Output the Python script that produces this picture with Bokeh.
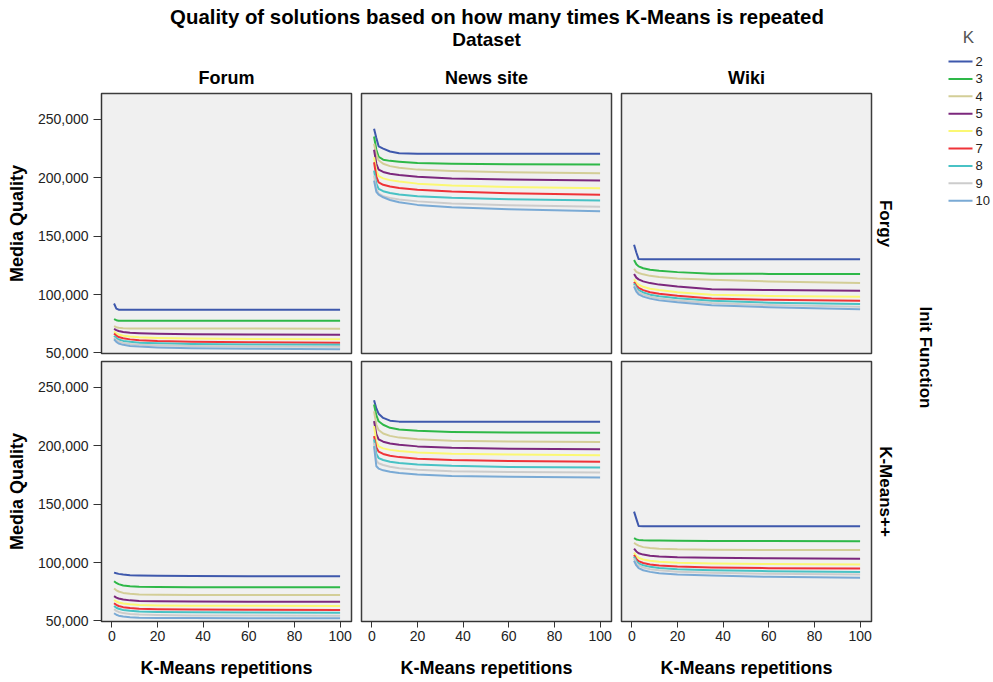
import numpy as np
from bokeh.plotting import figure
from bokeh.layouts import row, column
from bokeh.models import Range1d, FixedTicker, NumeralTickFormatter
from bokeh.core.properties import value
from bokeh.embed import file_html
from bokeh.resources import INLINE

# ---------------- data ----------------
TITLE = "Quality of solutions based on how many times K-Means is repeated"
FACET_COL_TITLE = "Dataset"
FACET_ROW_TITLE = "Init Function"
DATASETS = ["Forum", "News site", "Wiki"]
INITS = ["Forgy", "K-Means++"]
K_VALUES = [2, 3, 4, 5, 6, 7, 8, 9, 10]
K_COLORS = ["#3e58ac", "#2eb848", "#d3ce97", "#7c287d", "#fbf873",
            "#ef3338", "#48c2c5", "#cccccc", "#7aaad5"]
Y_TICKS = [50000, 100000, 150000, 200000, 250000]
X_TICKS = [0, 20, 40, 60, 80, 100]
X_LABEL = "K-Means repetitions"
Y_LABEL = "Media Quality"

# K-Means repetitions at which the curves were read
REPS = [1, 2, 3, 5, 8, 12, 20, 35, 60, 100]

forum_forgy = {
    2: [92300, 88000, 87000, 86900, 86900, 86900, 86900, 86900, 86900, 86900],
    3: [79000, 78000, 77600, 77500, 77500, 77500, 77500, 77500, 77500, 77500],
    4: [73000, 72000, 71500, 71200, 71000, 71000, 70900, 70900, 70900, 70800],
    5: [70600, 69500, 68800, 68000, 67300, 66900, 66400, 66000, 65700, 65500],
    6: [68300, 66800, 65800, 64800, 64000, 63400, 62800, 62300, 62000, 61700],
    7: [66600, 64800, 63600, 62500, 61600, 60900, 60200, 59600, 59200, 58800],
    8: [64600, 62700, 61500, 60300, 59500, 58800, 58200, 57600, 57200, 56900],
    9: [63100, 61000, 59800, 58600, 57700, 57100, 56500, 55900, 55500, 55200],
    10: [61700, 59400, 58100, 56900, 56000, 55400, 54700, 54000, 53600, 53200],
}
news_forgy = {
    2: [242000, 234000, 227000, 225000, 222500, 221000, 220700, 220600, 220600, 220600],
    3: [235400, 224000, 218000, 215500, 214500, 213800, 212700, 212000, 211600, 211400],
    4: [229100, 220000, 215000, 212000, 210000, 208600, 207000, 205800, 204800, 203900],
    5: [224000, 212000, 207000, 205000, 203500, 202300, 200800, 199500, 198500, 197600],
    6: [217600, 206000, 201500, 199500, 198000, 196800, 195000, 193500, 192200, 191000],
    7: [213300, 201000, 196000, 194000, 192500, 191200, 189800, 188200, 186800, 185400],
    8: [206200, 195000, 190500, 188500, 187000, 185700, 184200, 182800, 181600, 180500],
    9: [202000, 190500, 186500, 184300, 182800, 181500, 179800, 178000, 176500, 175300],
    10: [197600, 188000, 185600, 183300, 181000, 179000, 176800, 174700, 173000, 171300],
}
wiki_forgy = {
    2: [142700, 136000, 130400, 130300, 130300, 130300, 130300, 130300, 130300, 130300],
    3: [129600, 126000, 124100, 122500, 121300, 120400, 119200, 117900, 117700, 117600],
    4: [121900, 119500, 118500, 117300, 116000, 115000, 113800, 112700, 111200, 109800],
    5: [117600, 114500, 113000, 111300, 109800, 108500, 106800, 104600, 103800, 103200],
    6: [113100, 110000, 108400, 106600, 105000, 103800, 102000, 99800, 98800, 98100],
    7: [110800, 107500, 105800, 103800, 102000, 100600, 98900, 96600, 95500, 94600],
    8: [109400, 105800, 103800, 101800, 99900, 98500, 96800, 94600, 93000, 91800],
    9: [108000, 104200, 102000, 100000, 98200, 96700, 95000, 92700, 91000, 89500],
    10: [106900, 102500, 100200, 98200, 96500, 95000, 93300, 90900, 89100, 87500],
}
forum_kpp = {
    2: [91400, 90800, 90300, 89700, 89200, 88900, 88600, 88400, 88300, 88300],
    3: [84000, 82500, 81500, 80400, 79700, 79300, 79000, 78900, 78900, 78900],
    4: [77800, 76200, 75200, 74000, 73200, 72700, 72400, 72200, 72100, 72100],
    5: [71300, 70000, 69200, 68300, 67600, 67100, 66800, 66600, 66500, 66400],
    6: [67900, 66600, 65800, 64900, 64200, 63700, 63300, 63000, 62900, 62800],
    7: [65100, 63700, 62800, 61800, 61000, 60400, 60000, 59700, 59500, 59400],
    8: [62800, 61300, 60400, 59400, 58700, 58100, 57700, 57400, 57200, 57100],
    9: [60000, 58600, 57700, 56700, 56000, 55400, 55000, 54700, 54600, 54500],
    10: [56600, 55300, 54500, 53700, 53100, 52700, 52500, 52400, 52300, 52300],
}
news_kpp = {
    2: [239000, 232000, 227500, 223900, 221500, 220700, 220500, 220500, 220500, 220500],
    3: [235300, 226000, 221000, 218000, 215400, 214000, 212800, 211900, 211400, 211100],
    4: [229600, 218000, 213500, 210500, 208500, 207000, 205600, 204400, 203700, 203200],
    5: [221100, 210000, 205500, 203500, 202000, 200800, 199500, 198300, 197500, 197000],
    6: [216800, 203500, 199500, 197800, 196500, 195500, 194300, 193200, 192500, 191900],
    7: [208300, 198500, 195000, 193000, 191500, 190300, 189000, 187800, 187000, 186400],
    8: [205500, 193000, 189500, 187800, 186400, 185200, 184000, 182800, 181900, 181300],
    9: [202600, 187500, 185000, 183500, 182000, 180800, 179500, 178300, 177600, 177100],
    10: [199800, 182500, 180500, 179000, 177800, 176700, 175500, 174200, 173400, 172800],
}
wiki_kpp = {
    2: [143600, 137400, 131300, 131100, 131100, 131100, 131100, 131100, 131100, 131100],
    3: [120900, 119800, 119400, 119100, 118900, 118800, 118700, 118500, 118400, 118300],
    4: [117000, 115500, 114500, 113200, 112400, 111900, 111300, 111000, 110800, 110700],
    5: [112000, 109500, 108000, 106800, 105800, 105200, 104500, 104000, 103600, 103300],
    6: [108500, 105500, 104000, 102600, 101500, 100700, 99800, 99100, 98700, 98300],
    7: [106500, 103000, 101200, 99600, 98400, 97500, 96600, 95800, 95200, 94800],
    8: [105000, 101200, 99300, 97600, 96300, 95300, 94300, 93300, 92600, 92000],
    9: [103500, 99500, 97500, 95700, 94300, 93300, 92200, 91200, 90400, 89700],
    10: [101500, 97500, 95300, 93400, 92000, 90900, 89800, 88800, 87800, 86900],
}
PANELS = [[forum_forgy, news_forgy, wiki_forgy],
          [forum_kpp, news_kpp, wiki_kpp]]

# ---------------- styling / layout ----------------
FONT = "Liberation Sans"
FRAME_W, FRAME_H = 250, 260
X_RANGE = (-4.5, 105)
Y_RANGE = (49500, 272200)
BORDERS_LR = [(101, 5), (5, 5), (5, 2)]
BORDERS_TB = [(2, 7), (1, 57)]
TOP_H = 91
PAGE_W = 993


def make_panel(r, c):
    data = PANELS[r][c]
    left = c == 0
    bottom = r == 1
    p = figure(frame_width=FRAME_W, frame_height=FRAME_H,
               x_range=Range1d(*X_RANGE), y_range=Range1d(*Y_RANGE),
               x_axis_location="below" if bottom else None,
               y_axis_location="left" if left else None,
               output_backend="svg", toolbar_location=None)
    p.min_border_left, p.min_border_right = BORDERS_LR[c]
    p.min_border_top, p.min_border_bottom = BORDERS_TB[r]
    p.background_fill_color = "#f0f0f0"
    p.border_fill_color = "white"
    p.outline_line_color = "#3c3c3c"
    p.outline_line_width = 1.5
    p.grid.visible = False
    for k, col in zip(K_VALUES, K_COLORS):
        p.line(REPS, data[k], line_color=col, line_width=2, line_join="round")
    for ax in p.axis:
        ax.axis_line_color = "#333333"
        ax.major_tick_line_color = "#333333"
        ax.minor_tick_line_color = None
        ax.major_tick_in = 0
        ax.major_label_text_font = FONT
        ax.major_label_text_font_size = "14px"
        ax.major_label_text_color = "#222222"
        ax.axis_label_text_font = FONT
        ax.axis_label_text_font_size = "18px"
        ax.axis_label_text_font_style = "bold"
        ax.axis_label_text_color = "black"
    if left:
        p.yaxis.ticker = FixedTicker(ticks=Y_TICKS)
        p.yaxis.formatter = NumeralTickFormatter(format="0,0")
        p.yaxis.major_tick_out = 8
        p.yaxis.major_label_standoff = 5
        p.yaxis.axis_label = Y_LABEL
        p.yaxis.axis_label_standoff = 8
    if bottom:
        p.xaxis.ticker = FixedTicker(ticks=X_TICKS)
        p.xaxis.major_tick_out = 6
        p.xaxis.major_label_standoff = 3
        p.xaxis.axis_label = X_LABEL
        p.xaxis.axis_label_standoff = 14
    return p


panels = [[make_panel(r, c) for c in range(3)] for r in range(2)]

fig_widths = [bl + FRAME_W + br for bl, br in BORDERS_LR]
LEFT_W = sum(fig_widths)
frame_centers = []
acc = 0
for (bl, br), w in zip(BORDERS_LR, fig_widths):
    frame_centers.append(acc + bl + FRAME_W / 2)
    acc += w

row_h = [t + FRAME_H + b for t, b in BORDERS_TB]
TOTAL_H = TOP_H + sum(row_h)
RIGHT_W = PAGE_W - LEFT_W


def blank(w, h):
    f = figure(width=w, height=h, x_range=Range1d(0, w), y_range=Range1d(0, h),
               x_axis_location=None, y_axis_location=None,
               output_backend="svg", toolbar_location=None)
    f.min_border_left = f.min_border_right = f.min_border_top = f.min_border_bottom = 0
    f.outline_line_color = None
    f.grid.visible = False
    f.background_fill_color = "white"
    f.border_fill_color = "white"
    return f


# header figure
top = blank(LEFT_W, TOP_H)
top.text(x=[PAGE_W / 2], y=[TOP_H - 16], text=[TITLE], text_font=value(FONT),
         text_font_size="20.4px", text_font_style="bold", text_color="black",
         text_align="center", text_baseline="middle")
top.text(x=[(frame_centers[0] + frame_centers[2]) / 2], y=[TOP_H - 39],
         text=[FACET_COL_TITLE], text_font=value(FONT), text_font_size="19px",
         text_font_style="bold", text_color="black",
         text_align="center", text_baseline="middle")
top.text(x=frame_centers, y=[TOP_H - 77] * 3, text=DATASETS,
         text_font=value(FONT), text_font_size="18px", text_font_style="bold",
         text_color="black", text_align="center", text_baseline="middle")

# right strip + legend figure
right = blank(RIGHT_W, TOTAL_H)
row_centers = [TOTAL_H - (TOP_H + BORDERS_TB[0][0] + FRAME_H / 2),
               TOTAL_H - (TOP_H + row_h[0] + BORDERS_TB[1][0] + FRAME_H / 2)]
right.text(x=[12, 12], y=row_centers, text=INITS, angle=-np.pi / 2,
           text_font=value(FONT), text_font_size="17px", text_font_style="bold",
           text_color="black", text_align="center", text_baseline="middle")
right.text(x=[52], y=[(row_centers[0] + row_centers[1]) / 2], text=[FACET_ROW_TITLE],
           angle=-np.pi / 2, text_font=value(FONT), text_font_size="17px",
           text_font_style="bold", text_color="black",
           text_align="center", text_baseline="middle")
right.text(x=[95], y=[TOTAL_H - 37], text=["K"], text_font=value(FONT),
           text_font_size="17px", text_color="#555555",
           text_align="center", text_baseline="middle")
leg_y = [TOTAL_H - (61 + 17.4 * i) for i in range(len(K_VALUES))]
right.segment(x0=[75] * len(K_VALUES), x1=[99] * len(K_VALUES), y0=leg_y, y1=leg_y,
              line_color=K_COLORS, line_width=2)
right.text(x=[102] * len(K_VALUES), y=leg_y, text=[str(k) for k in K_VALUES],
           text_font=value(FONT), text_font_size="13px", text_color="#222222",
           text_align="left", text_baseline="middle")

layout = row(column(top, row(*panels[0]), row(*panels[1])), right)

open("out.html", "w").write(file_html(layout, INLINE))
